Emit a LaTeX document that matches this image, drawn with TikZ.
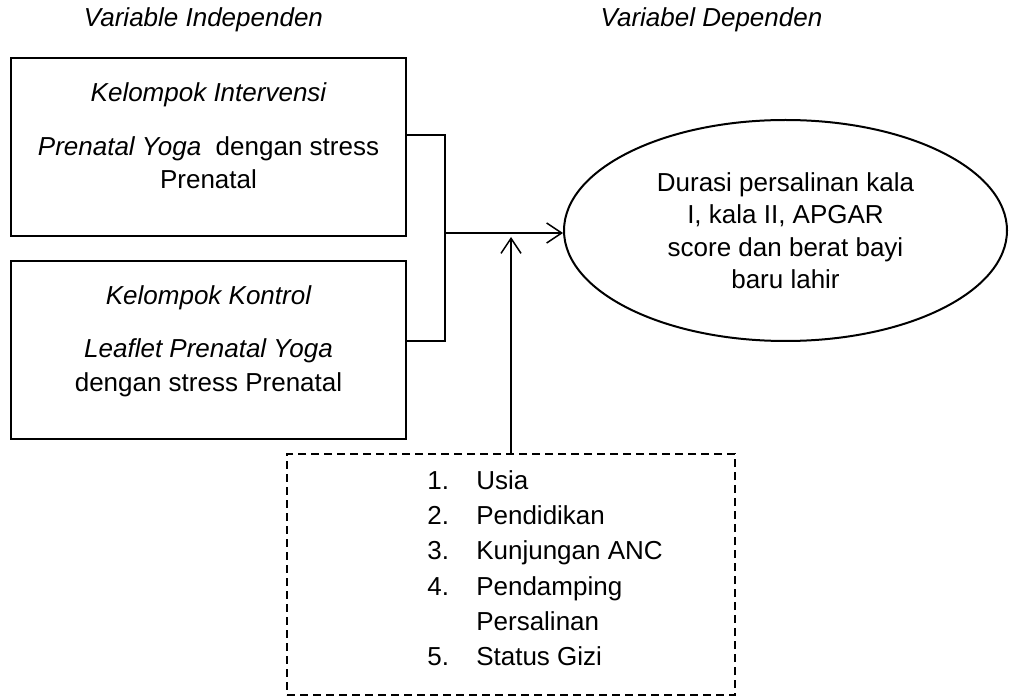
\documentclass[tikz,border=0pt]{standalone}
\usepackage{fontspec}
\setmainfont{Liberation Sans}
\usetikzlibrary{positioning, arrows.meta, shapes.geometric}
\newcommand{\ukuran}{\fontsize{26}{33.5}\selectfont}
\newcommand{\butir}[1]{\makebox[49pt][l]{#1.}}
\tikzset{
  > = {Straight Barb[length = 15pt, width = 20pt]},
  judul/.style = {font = \ukuran\itshape, anchor = base},
  kelompok/.style = {draw, line width = 2pt, inner sep = 0pt, align = center,
    minimum width = 395pt, minimum height = 178pt, text depth = 23pt},
  hasil/.style = {draw, ellipse, line width = 2pt, inner sep = 0pt, align = center,
    minimum width = 443pt, minimum height = 221pt,
    font = \fontsize{26}{32.5}\selectfont},
  faktorbox/.style = {draw, line width = 1.8pt, dash pattern = on 8pt off 5pt,
    minimum width = 448pt, minimum height = 241pt, inner sep = 0pt},
  daftar/.style = {align = left, inner sep = 0pt,
    font = \fontsize{26}{35.3}\selectfont},
  garis/.style = {line width = 1.5pt},
  panah/.style = {garis, ->}
}
\begin{document}
\begin{tikzpicture}[x = 1pt, y = 1pt, font = \ukuran]
\useasboundingbox (0,0) rectangle (1009,697);

\node [judul] (indep) at (203.5,670) {Variable Independen};
\node [judul] (dep) at (711.5,670) {Variabel Dependen};

\node [kelompok] (inter) at (208.5,550)
  {{\itshape Kelompok Intervensi}\\[20.5pt]
   {\itshape Prenatal Yoga}\ \ dengan stress\\ Prenatal};
\node [kelompok] (kontrol) [below = 23pt of inter]
  {{\itshape Kelompok Kontrol}\\[19.5pt]
   {\itshape Leaflet Prenatal Yoga}\\ dengan stress Prenatal};

\node [hasil] (luaran) at (785.5,466.5)
  {Durasi persalinan kala\\ I, kala II, APGAR\\ score dan berat bayi\\ baru lahir};

\node [faktorbox] (faktor) at (511,122.5) {};
\node [daftar, anchor = north west] (list) at ([xshift = 141pt, yshift = -17pt]faktor.north west)
  {\butir{1}Usia\\ \butir{2}Pendidikan\\ \butir{3}Kunjungan ANC\\
   \butir{4}Pendamping\\ \hspace*{49pt}Persalinan\\ \butir{5}Status Gizi};

\coordinate (gabung) at (445,464);
\draw [garis] ([yshift = 12pt]inter.east) -| (gabung) |- ([yshift = 9pt]kontrol.east);
\draw [panah] (gabung) -- (gabung -| luaran.west);
\draw [panah, shorten > = 4pt] (faktor.north) -- (faktor.north |- gabung);

\end{tikzpicture}
\end{document}
